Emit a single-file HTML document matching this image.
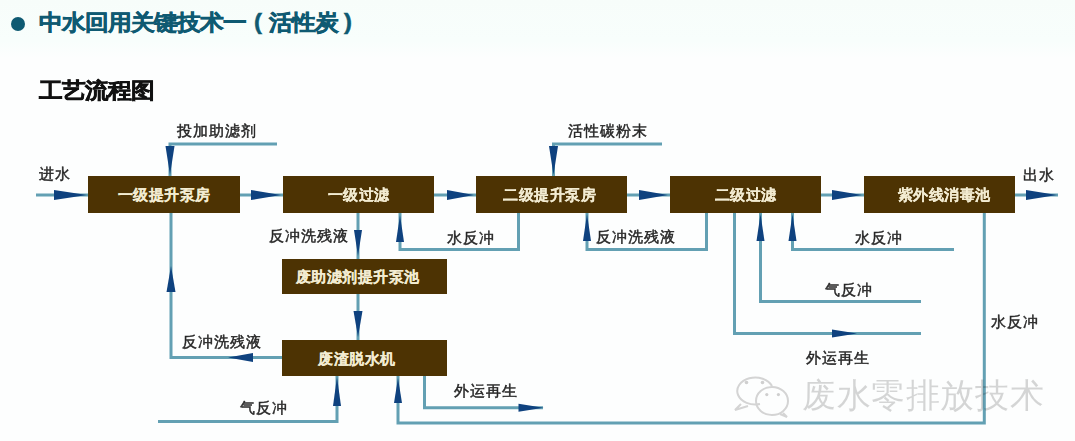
<!DOCTYPE html>
<html><head><meta charset="utf-8">
<style>
html,body{margin:0;padding:0;}
body{width:1075px;height:441px;position:relative;overflow:hidden;background:#fdfefe;font-family:"Liberation Sans",sans-serif;}
.t{position:absolute;white-space:nowrap;line-height:1;}
.hd{color:#0f5a72;font-size:22px;font-weight:bold;letter-spacing:-0.7px;-webkit-text-stroke:0.5px #0f5a72;transform:scaleX(1.08);transform-origin:0 0;}
.ti{color:#111;font-size:22px;font-weight:bold;letter-spacing:-0.7px;-webkit-text-stroke:0.5px #111;transform:scaleX(1.08);transform-origin:0 0;}
.lb{color:#262626;font-size:15px;letter-spacing:0.9px;-webkit-text-stroke:0.45px #262626;}
.box{position:absolute;background:#4d3303;color:#f3ecd2;font-size:15px;font-weight:bold;line-height:1;display:flex;align-items:center;justify-content:center;letter-spacing:0.5px;-webkit-text-stroke:0.1px #f3ecd2;box-sizing:border-box;}
svg{position:absolute;left:0;top:0;}
.wm{color:rgba(0,0,0,0.16);font-size:34px;letter-spacing:0.6px;}
</style></head>
<body>
<div id="w" style="position:absolute;left:0;top:0;width:1075px;height:441px;filter:blur(0.4px)">
<div style="position:absolute;left:0;top:0;width:1075px;height:58px;background:linear-gradient(#f7fdfa,#f8fefc 70%,#fdfefe)"></div>
<div style="position:absolute;left:11px;top:17px;width:14px;height:14px;border-radius:50%;background:#0f5a72"></div>
<div class="t hd" style="left:39px;top:12px">中水回用关键技术一</div>
<div class="t hd" style="left:254px;top:11px">(</div>
<div class="t hd" style="left:269px;top:12px">活性炭</div>
<div class="t hd" style="left:344px;top:11px">)</div>
<div class="t ti" style="left:39px;top:80px">工艺流程图</div>

<svg width="1075" height="441" viewBox="0 0 1075 441">
<g stroke="#63a0b3" stroke-width="3" fill="none" stroke-linecap="butt">
<!-- main flow -->
<path d="M36 195H88"/>
<path d="M240 195H283"/>
<path d="M434 195H476"/>
<path d="M627 195H670"/>
<path d="M821 195H864"/>
<path d="M1015 195H1058"/>
<!-- top feeds -->
<path d="M277 144H170V176"/>
<path d="M662 144H553.5V176"/>
<!-- under box2 -->
<path d="M358 213V259"/>
<path d="M400 213V249.5H518.5V213"/>
<path d="M587 213V249.5H706.5V213"/>
<path d="M792.5 213V249.5H954"/>
<path d="M760.5 213V301.5H921"/>
<path d="M734.5 213V333.5H921"/>
<path d="M984.3 213V423H398V375"/>
<!-- box6 to box7 -->
<path d="M358 294V340"/>
<!-- box7 left feedback -->
<path d="M282 357.5H171V213"/>
<!-- bottom -->
<path d="M158 421.5H337V375"/>
<path d="M424.5 375V407.8H543"/>
</g>
<g fill="#0f427f">
<!-- right arrows on main -->
<path d="M54 190L87 195L54 200Z"/>
<path d="M251 190L281 195L251 200Z"/>
<path d="M447 190L474 195L447 200Z"/>
<path d="M639 190L668 195L639 200Z"/>
<path d="M832 190L862 195L832 200Z"/>
<path d="M1026 190L1057 195L1026 200Z"/>
<!-- down arrows -->
<path d="M165.5 146L170 175L174.5 146Z"/>
<path d="M549 146L553.5 175L558 146Z"/>
<path d="M354 230L358 256L362 230Z"/>
<path d="M353.5 311L358 337L362.5 311Z"/>
<!-- up arrows -->
<path d="M396 242L400 215L404 242Z"/>
<path d="M583 241L587 214L591 241Z"/>
<path d="M756.5 241L760.5 214L764.5 241Z"/>
<path d="M788.5 241L792.5 214L796.5 241Z"/>
<path d="M166.5 292L171 266L175.5 292Z"/>
<path d="M333 406L337 377L341 406Z"/>
<path d="M394 403L398 378L402 403Z"/>
<!-- left arrow -->
<path d="M253 353L228 357.5L253 362Z"/>
<!-- right arrows small -->
<path d="M832 329.5L857 333.5L832 337.5Z"/>
<path d="M518.5 403.8L543.5 407.8L518.5 411.8Z"/>
</g>
</svg>

<div class="box" style="left:88px;top:176px;width:152px;height:37px">一级提升泵房</div>
<div class="box" style="left:283px;top:176px;width:151px;height:37px">一级过滤</div>
<div class="box" style="left:476px;top:176px;width:151px;height:37px;padding-right:4px">二级提升泵房</div>
<div class="box" style="left:670px;top:176px;width:151px;height:37px">二级过滤</div>
<div class="box" style="left:864px;top:176px;width:151px;height:37px;padding-left:9px">紫外线消毒池</div>
<div class="box" style="left:282px;top:259px;width:165px;height:35px;padding-right:14px">废助滤剂提升泵池</div>
<div class="box" style="left:282px;top:340px;width:165px;height:36px;padding-right:15px">废渣脱水机</div>

<div class="t lb" style="left:39px;top:166px">进水</div>
<div class="t lb" style="left:1023px;top:167px">出水</div>
<div class="t lb" style="left:177px;top:123px">投加助滤剂</div>
<div class="t lb" style="left:568px;top:123px">活性碳粉末</div>
<div class="t lb" style="left:269px;top:228px">反冲洗残液</div>
<div class="t lb" style="left:447px;top:230px">水反冲</div>
<div class="t lb" style="left:596px;top:229px">反冲洗残液</div>
<div class="t lb" style="left:855px;top:230px">水反冲</div>
<div class="t lb" style="left:825px;top:282px">气反冲</div>
<div class="t lb" style="left:806px;top:350px">外运再生</div>
<div class="t lb" style="left:991px;top:314px">水反冲</div>
<div class="t lb" style="left:182px;top:334px">反冲洗残液</div>
<div class="t lb" style="left:240px;top:400px">气反冲</div>
<div class="t lb" style="left:454px;top:383px">外运再生</div>

<div class="t wm" style="left:802px;top:378px">废水零排放技术</div>
<svg width="1075" height="441" viewBox="0 0 1075 441"><g fill="none" stroke="#d4d4d4" stroke-width="2">
<path d="M760 404 A18 13.5 0 1 1 772 386"/>
<path d="M741 404 L735 410 L748 406"/>
<ellipse cx="772" cy="401" rx="16" ry="14"/>
<path d="M783 413 L787 417 L780 414"/>
</g><g fill="#cfcfcf">
<circle cx="746.5" cy="382.5" r="1.8"/><circle cx="762.5" cy="382.5" r="1.8"/>
<circle cx="766.8" cy="394.6" r="1.6"/><circle cx="778.4" cy="394.6" r="1.6"/>
</g></svg>
</div>
</body></html>
